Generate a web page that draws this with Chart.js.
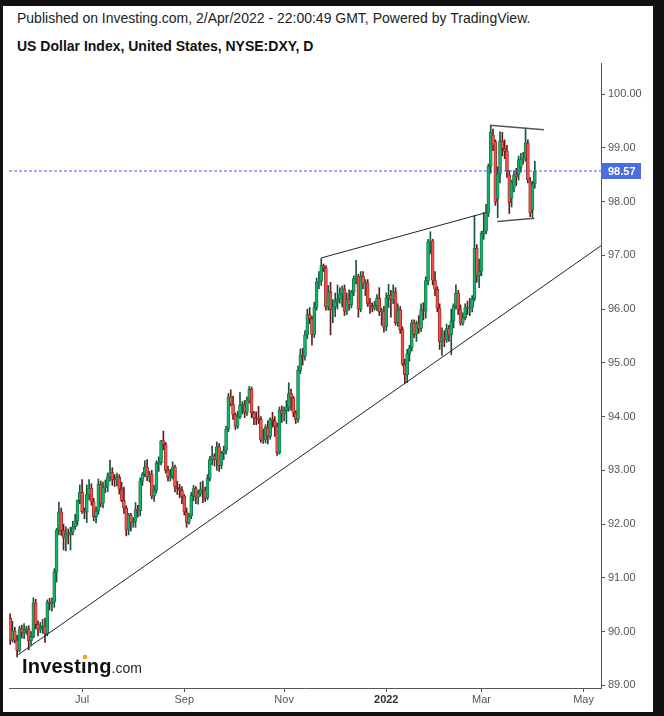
<!DOCTYPE html>
<html>
<head>
<meta charset="utf-8">
<script src="https://cdn.jsdelivr.net/npm/chart.js@4.4.1/dist/chart.umd.min.js"></script>
<style>
html, body { margin: 0; padding: 0; background: #111; }
body { width: 664px; height: 716px; position: relative; overflow: hidden; font-family: "Liberation Sans", Arial, sans-serif; }
#paper { position: absolute; left: 3px; top: 6px; width: 650px; height: 706px; background: #fff; }
#chart { position: absolute; left: 0; top: 0; }
.hdr { position: absolute; left: 17px; font-size: 14px; line-height: 16px; white-space: nowrap; }
#hdr1 { top: 10px; color: #222; }
#hdr2 { top: 38px; color: #111; font-weight: bold; }
#logo { position: absolute; left: 22px; top: 656px; font-size: 20px; line-height: 20px; font-weight: bold; color: #111; letter-spacing: 0.2px; white-space: nowrap; }
#logo span { font-size: 14px; font-weight: normal; color: #222; letter-spacing: 0; }
#dot { position: absolute; left: 83px; top: 655px; width: 4px; height: 4px; background: #f5a623; }
</style>
</head>
<body class="page-chart">
<div id="paper"></div>
<div class="hdr" id="hdr1">Published on Investing.com, 2/Apr/2022 - 22:00:49 GMT, Powered by TradingView.</div>
<div class="hdr" id="hdr2">US Dollar Index, United States, NYSE:DXY, D</div>
<canvas id="chart" width="664" height="716"></canvas>
<div id="logo">Investıng<span>.com</span></div>
<div id="dot"></div>
<script>
// daily candles, 20 May 2021 .. 1 Apr 2022 (one per weekday)
const openPx = [
  90.25, 89.84, 90.01, 89.84, 89.65, 90.05, 89.98, 90.03,
  90.05, 89.83, 89.90, 90.53, 90.13, 90.04, 90.08, 90.10, 89.96, 90.55, 90.52, 90.55, 91.11, 91.89, 92.23, 91.88, 91.75, 91.81, 91.80, 91.85, 91.95, 92.06,
  92.44, 92.59, 92.23, 92.22, 92.55, 92.67, 92.42, 92.14, 92.24, 92.74, 92.39, 92.68, 92.69, 92.88, 92.96, 92.83, 92.82, 92.87, 92.65, 92.44, 92.30, 91.90,
  92.17, 92.03, 92.05, 92.27, 92.25, 92.80, 92.93, 93.06, 92.88, 92.93, 92.52, 92.63, 93.13, 93.14, 93.55, 93.48, 93.00, 92.87, 92.89, 93.06, 92.69, 92.66,
  92.63, 92.52, 92.23, 92.03, 92.15, 92.53, 92.66, 92.50, 92.57, 92.65, 92.63, 92.49, 92.85, 93.20, 93.27, 93.20, 93.44, 93.09, 93.32, 93.37, 93.77, 94.37,
  94.23, 94.04, 93.82, 94.00, 94.21, 94.22, 94.08, 94.31, 94.51, 94.07, 93.97, 93.96, 93.95, 93.56, 93.57, 93.80, 93.63, 93.95, 93.92, 93.82, 93.33,
  94.12, 94.05, 94.11, 94.17, 94.43, 94.35, 94.07, 93.95, 94.86, 95.15, 95.12, 95.52, 95.90, 95.82, 95.53, 96.03, 96.50, 96.52, 96.81, 96.77, 96.04, 96.32,
  95.99, 96.04, 96.14, 96.19, 96.28, 96.38, 95.96, 96.18, 96.08, 96.32, 96.57, 96.61, 96.00, 96.61, 96.47, 96.49, 96.11, 96.06, 96.02, 96.07, 96.20, 95.95, 95.96,
  95.67, 96.21, 96.26, 96.18, 96.32, 95.75, 95.99, 95.62, 94.98, 94.78, 95.17, 95.28, 95.74, 95.53, 95.73, 95.64, 95.99, 95.96, 96.53, 97.25, 97.27,
  96.54, 96.37, 96.02, 95.39, 95.48, 95.43, 95.64, 95.52, 95.78, 96.06, 96.30, 96.00, 95.74, 95.84, 96.04, 96.02, 96.03, 96.19, 97.13, 96.62,
  96.71, 97.41, 97.45, 97.79, 98.66, 99.24, 99.12, 98.06, 98.52, 99.13, 98.99, 98.94, 98.50, 98.06, 98.25, 98.50, 98.50, 98.64, 98.79, 98.80, 99.09, 98.37, 97.85,
  98.33
];
const highPx = [
  90.33, 90.19, 90.08, 89.93, 90.10, 90.12, 90.15, 90.10,
  90.11, 90.00, 90.63, 90.60, 90.20, 90.17, 90.23, 90.25, 90.59, 90.62, 90.63, 91.17, 91.92, 92.41, 92.30, 92.00, 91.95, 91.91, 91.94, 92.05, 92.18, 92.45,
  92.73, 92.83, 92.30, 92.73, 92.83, 92.75, 92.48, 92.32, 92.84, 92.80, 92.78, 92.82, 92.95, 93.19, 93.05, 92.92, 92.95, 92.92, 92.78, 92.69, 92.34, 92.20,
  92.20, 92.12, 92.40, 92.35, 92.86, 92.96, 93.18, 93.20, 92.98, 93.00, 92.72, 93.18, 93.25, 93.56, 93.73, 93.52, 93.08, 93.02, 93.16, 93.10, 92.80, 92.74,
  92.70, 92.55, 92.30, 92.20, 92.59, 92.72, 92.70, 92.63, 92.78, 92.80, 92.69, 92.92, 93.26, 93.45, 93.31, 93.53, 93.50, 93.35, 93.45, 93.82, 94.43, 94.50,
  94.38, 94.07, 94.10, 94.45, 94.28, 94.30, 94.37, 94.56, 94.55, 94.10, 94.09, 94.19, 94.00, 93.77, 93.85, 93.92, 93.98, 94.08, 94.00, 93.88, 94.18,
  94.20, 94.18, 94.30, 94.63, 94.51, 94.38, 94.11, 94.94, 95.26, 95.27, 95.60, 96.00, 96.03, 95.87, 96.13, 96.58, 96.70, 96.94, 96.84, 96.81, 96.44, 96.50,
  96.18, 96.30, 96.45, 96.40, 96.43, 96.45, 96.30, 96.36, 96.35, 96.62, 96.91, 96.65, 96.70, 96.70, 96.55, 96.55, 96.20, 96.12, 96.15, 96.27, 96.40, 96.02, 96.05,
  96.30, 96.46, 96.35, 96.45, 96.40, 96.10, 96.05, 95.67, 95.07, 95.25, 95.33, 95.80, 95.80, 95.78, 95.88, 96.10, 96.12, 96.60, 97.30, 97.44, 97.30,
  96.70, 96.42, 96.10, 95.65, 95.60, 95.72, 95.70, 96.00, 96.10, 96.45, 96.35, 96.08, 95.93, 96.10, 96.15, 96.20, 96.25, 97.74, 97.20, 96.93,
  97.45, 97.80, 97.95, 98.70, 99.42, 99.35, 99.15, 98.65, 99.30, 99.29, 99.15, 99.05, 98.58, 98.40, 98.58, 98.62, 98.85, 98.90, 98.92, 99.37, 99.15, 98.45, 98.38,
  98.75
];
const lowPx = [
  89.76, 89.80, 89.79, 89.53, 89.62, 89.88, 89.87, 89.95,
  89.66, 89.75, 89.88, 90.05, 89.92, 89.98, 89.97, 89.80, 89.92, 90.40, 90.38, 90.45, 90.92, 91.80, 91.79, 91.52, 91.50, 91.63, 91.52, 91.80, 91.90, 91.98,
  92.38, 92.20, 92.10, 92.03, 92.45, 92.35, 92.06, 92.02, 92.18, 92.32, 92.30, 92.58, 92.60, 92.80, 92.72, 92.70, 92.71, 92.56, 92.42, 92.20, 91.78, 91.80,
  91.87, 91.94, 91.94, 92.13, 92.15, 92.72, 92.88, 92.81, 92.78, 92.47, 92.42, 92.58, 92.98, 93.10, 93.38, 92.95, 92.80, 92.80, 92.84, 92.60, 92.55, 92.49,
  92.38, 92.17, 91.94, 92.00, 92.10, 92.43, 92.38, 92.37, 92.52, 92.40, 92.42, 92.45, 92.80, 93.10, 93.08, 93.00, 92.98, 93.03, 93.20, 93.30, 93.72, 94.20,
  93.95, 93.76, 93.78, 93.96, 94.05, 93.98, 94.02, 94.25, 93.98, 93.85, 93.85, 93.87, 93.52, 93.50, 93.51, 93.49, 93.58, 93.80, 93.63, 93.28, 93.30,
  93.89, 93.92, 93.87, 94.10, 94.12, 94.00, 93.87, 93.89, 94.80, 94.96, 95.05, 95.45, 95.73, 95.33, 95.47, 95.98, 96.38, 96.44, 96.70, 95.98, 95.98, 95.52,
  95.75, 95.86, 96.00, 96.11, 96.04, 95.88, 95.90, 95.98, 96.02, 96.25, 96.47, 95.85, 95.95, 96.38, 96.25, 96.05, 95.92, 95.95, 95.98, 95.97, 95.88, 95.70, 95.57,
  95.60, 96.03, 95.85, 96.10, 95.70, 95.68, 95.55, 94.95, 94.62, 94.63, 95.03, 95.22, 95.47, 95.40, 95.55, 95.58, 95.80, 95.83, 96.45, 97.03, 96.45,
  96.25, 95.95, 95.25, 95.14, 95.30, 95.38, 95.40, 95.15, 95.65, 96.00, 95.90, 95.70, 95.70, 95.80, 95.90, 95.88, 95.95, 96.15, 96.50, 96.40,
  96.62, 97.30, 97.40, 97.72, 98.53, 98.95, 97.93, 97.70, 98.35, 98.85, 98.80, 98.45, 97.78, 97.90, 98.18, 98.30, 98.40, 98.55, 98.70, 98.75, 98.35, 97.72, 97.68,
  98.25
];
const closePx = [
  89.84, 90.01, 89.84, 89.65, 90.05, 89.98, 90.03, 90.05,
  89.83, 89.90, 90.53, 90.13, 90.04, 90.08, 90.10, 89.96, 90.55, 90.52, 90.55, 91.11, 91.89, 92.23, 91.88, 91.75, 91.81, 91.80, 91.85, 91.95, 92.06, 92.44,
  92.59, 92.23, 92.22, 92.55, 92.67, 92.42, 92.14, 92.24, 92.74, 92.39, 92.68, 92.69, 92.88, 92.96, 92.83, 92.82, 92.87, 92.65, 92.44, 92.30, 91.90, 92.17,
  92.03, 92.05, 92.27, 92.25, 92.80, 92.93, 93.06, 92.88, 92.93, 92.52, 92.63, 93.13, 93.14, 93.55, 93.48, 93.00, 92.87, 92.89, 93.06, 92.69, 92.66, 92.63,
  92.52, 92.23, 92.03, 92.15, 92.53, 92.66, 92.50, 92.57, 92.65, 92.63, 92.49, 92.85, 93.20, 93.27, 93.20, 93.44, 93.09, 93.32, 93.37, 93.77, 94.37, 94.23,
  94.04, 93.82, 94.00, 94.21, 94.22, 94.08, 94.31, 94.51, 94.07, 93.97, 93.96, 93.95, 93.56, 93.57, 93.80, 93.63, 93.95, 93.92, 93.82, 93.33, 94.12,
  94.05, 94.11, 94.17, 94.43, 94.35, 94.07, 93.95, 94.86, 95.15, 95.12, 95.52, 95.90, 95.82, 95.53, 96.03, 96.50, 96.52, 96.81, 96.77, 96.04, 96.32, 95.99,
  96.04, 96.14, 96.19, 96.28, 96.38, 95.96, 96.18, 96.08, 96.32, 96.57, 96.61, 96.00, 96.61, 96.47, 96.49, 96.11, 96.06, 96.02, 96.07, 96.20, 95.95, 95.96, 95.67,
  96.21, 96.26, 96.18, 96.32, 95.75, 95.99, 95.62, 94.98, 94.78, 95.17, 95.28, 95.74, 95.53, 95.73, 95.64, 95.99, 95.96, 96.53, 97.25, 97.27, 96.54,
  96.37, 96.02, 95.39, 95.48, 95.43, 95.64, 95.52, 95.78, 96.06, 96.30, 96.00, 95.74, 95.84, 96.04, 96.02, 96.03, 96.19, 97.13, 96.62, 96.71,
  97.41, 97.45, 97.79, 98.66, 99.30, 99.05, 97.99, 98.52, 99.13, 98.99, 98.94, 98.57, 97.98, 98.37, 98.50, 98.46, 98.78, 98.79, 98.80, 99.10, 98.41, 97.79, 98.31,
  98.57
];

// axis: bar index from 0, empty space runs on to mid May 2022
const xMin = -0.5;
const xMax = 254.5;
const monthTickIdx = [31, 75, 118, 162, 203, 247];
const monthTickText = ["Jul", "Sep", "Nov", "2022", "Mar", "May"];
const priceTicks = [89, 90, 91, 92, 93, 94, 95, 96, 97, 98, 99, 100];
const priceMin = 88.95;
const priceMax = 100.58;

// drawn lines, [barIndex, price]
const supportLine = [[3.5, 89.57], [254.5, 97.18]];
const wedgeTop = [[133.8, 96.95], [204.5, 97.79]];
const flagTop = [[206.7, 99.42], [229.9, 99.34]];
const flagBottom = [[209.8, 97.63], [225.8, 97.69]];

const lastClose = closePx[closePx.length - 1];

const upFill = "#0fb46a";
const upEdge = "#1c6a44";
const downFill = "#f4504a";
const downEdge = "#8a2420";

function toPoints(pairs) {
return pairs.map(p => ({ x: p[0], y: p[1] }));
}

const wickData = [];
const bodyData = [];
const wickColors = [];
const bodyFill = [];
const bodyEdge = [];
for (let i = 0; i < closePx.length; i++) {
const up = closePx[i] >= openPx[i];
wickData.push({ x: i, y: [lowPx[i], highPx[i]] });
bodyData.push({ x: i, y: [openPx[i], closePx[i]] });
wickColors.push(up ? "#17553a" : "#5e1c1c");
bodyFill.push(up ? upFill : downFill);
bodyEdge.push(up ? upEdge : downEdge);
}

const priceTag = {
id: "priceTag",
afterDraw(chart) {
const ctx = chart.ctx;
const area = chart.chartArea;
const y = chart.scales.y.getPixelForValue(lastClose);
ctx.save();
// bottom label is cut by the frame in the original
ctx.fillStyle = "#fff";
ctx.fillRect(area.right + 1, area.bottom + 1, 51, 10);
ctx.fillStyle = "#4a6ee0";
ctx.fillRect(area.right, Math.round(y) - 8, 40, 16);
ctx.fillStyle = "#fff";
ctx.font = "bold 11px 'Liberation Sans', Arial, sans-serif";
ctx.textBaseline = "middle";
ctx.fillText(lastClose.toFixed(2), area.right + 7, Math.round(y) + 0.5);
ctx.restore();
}
};

function lineSet(points, color, width) {
return {
type: "line",
data: toPoints(points),
borderColor: color,
borderWidth: width,
pointRadius: 0,
fill: false,
order: 0
};
}

const lastLine = lineSet([[xMin, lastClose], [xMax, lastClose]], "#3d63dd", 1);
lastLine.borderDash = [3, 2];

new Chart(document.getElementById("chart"), {
type: "bar",
data: {
datasets: [
lineSet(supportLine, "#222", 1),
lineSet(wedgeTop, "#222", 1),
lineSet(flagTop, "#555", 1.5),
lineSet(flagBottom, "#555", 1.5),
lastLine,
{
data: bodyData,
backgroundColor: bodyFill,
borderColor: bodyEdge,
borderWidth: 0.8,
borderSkipped: false,
barThickness: 3,
minBarLength: 1,
grouped: false,
order: 1
},
{
data: wickData,
backgroundColor: wickColors,
borderWidth: 0,
barThickness: 1,
grouped: false,
order: 2
}
]
},
options: {
responsive: false,
animation: false,
layout: {
padding: { left: 9, top: 63, right: 11, bottom: 4 }
},
plugins: {
legend: { display: false },
tooltip: { enabled: false }
},
scales: {
x: {
type: "linear",
min: xMin,
max: xMax,
offset: false,
afterBuildTicks: scale => {
scale.ticks = monthTickIdx.map(v => ({ value: v }));
},
afterFit: scale => {
scale.height = 24;
},
grid: {
offset: false,
drawOnChartArea: false,
drawTicks: true,
tickLength: 4,
color: "#555"
},
border: { display: true, color: "#555", width: 1 },
ticks: {
autoSkip: false,
maxRotation: 0,
padding: 1,
color: ctx => (ctx.index === 3 ? "#333" : "#555"),
font: ctx => ({
family: "'Liberation Sans', Arial, sans-serif",
size: 11,
weight: ctx.index === 3 ? "bold" : "normal"
}),
callback: (value, index) => monthTickText[index]
}
},
y: {
type: "linear",
position: "right",
min: priceMin,
max: priceMax,
afterBuildTicks: scale => {
scale.ticks = priceTicks.map(v => ({ value: v }));
},
afterFit: scale => {
scale.width = 52;
},
grid: {
drawOnChartArea: false,
drawTicks: true,
tickLength: 4,
color: "#555"
},
border: { display: true, color: "#555", width: 1 },
ticks: {
padding: 3,
color: "#555",
font: { family: "'Liberation Sans', Arial, sans-serif", size: 11 },
callback: value => Number(value).toFixed(2)
}
}
}
},
plugins: [priceTag]
});
</script>
</body>
</html>
